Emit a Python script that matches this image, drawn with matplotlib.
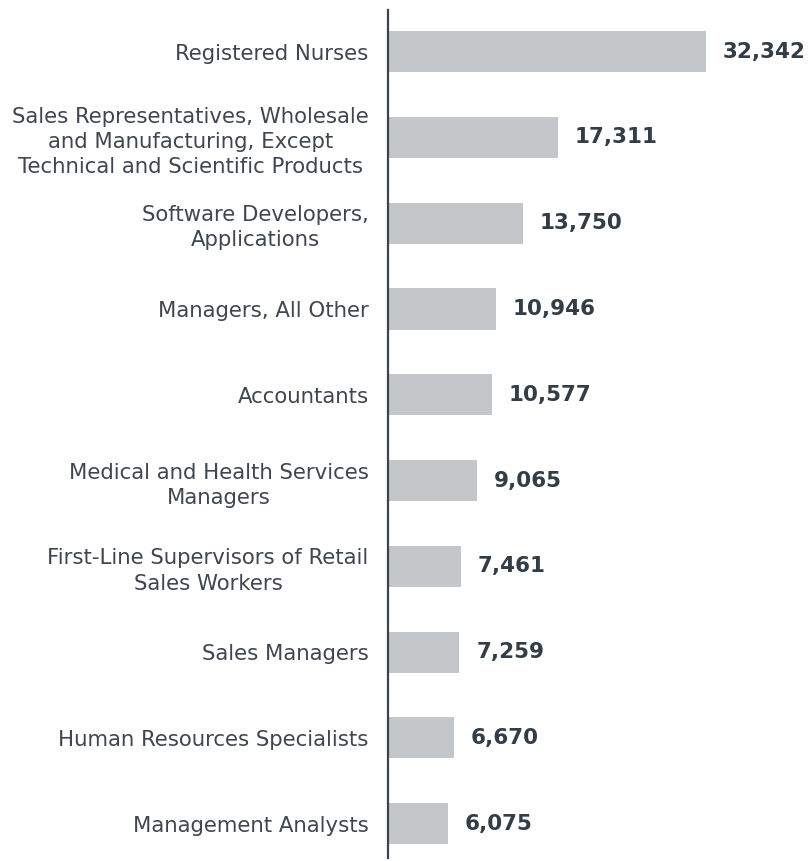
import matplotlib.pyplot as plt

occupations = [
    "Registered Nurses",
    "Sales Representatives, Wholesale\nand Manufacturing, Except\nTechnical and Scientific Products",
    "Software Developers,\nApplications",
    "Managers, All Other",
    "Accountants",
    "Medical and Health Services\nManagers",
    "First-Line Supervisors of Retail\nSales Workers",
    "Sales Managers",
    "Human Resources Specialists",
    "Management Analysts",
]
postings = [32342, 17311, 13750, 10946, 10577, 9065, 7461, 7259, 6670, 6075]

bar_color = "#c4c7ca"
text_color = "#3f4650"
value_color = "#333d47"

fig = plt.figure(figsize=(8.1, 8.61), dpi=100)
ax = fig.add_axes([388 / 810, 3 / 861, 422 / 810, 848 / 861])

y = list(range(len(occupations)))
ax.barh(y, postings, height=0.48, color=bar_color)

for yi, v in zip(y, postings):
    ax.text(v + 1700, yi, f"{v:,}", va="center", ha="left",
            fontsize=15.5, fontweight="bold", color=value_color)

ax.set_yticks(y)
ax.set_yticklabels(occupations, fontsize=15.3, color=text_color,
                   linespacing=1.33, ha="right", multialignment="center")
ax.tick_params(axis="y", length=0, pad=14)
ax.set_xticks([])
ax.set_ylim(len(occupations) - 1 + 0.40, -0.485)
ax.set_xlim(0, 42900)

for side in ["top", "right", "bottom"]:
    ax.spines[side].set_visible(False)
ax.spines["left"].set_color("#3a4450")
ax.spines["left"].set_linewidth(1.6)

fig.savefig("out.png", dpi=100)
